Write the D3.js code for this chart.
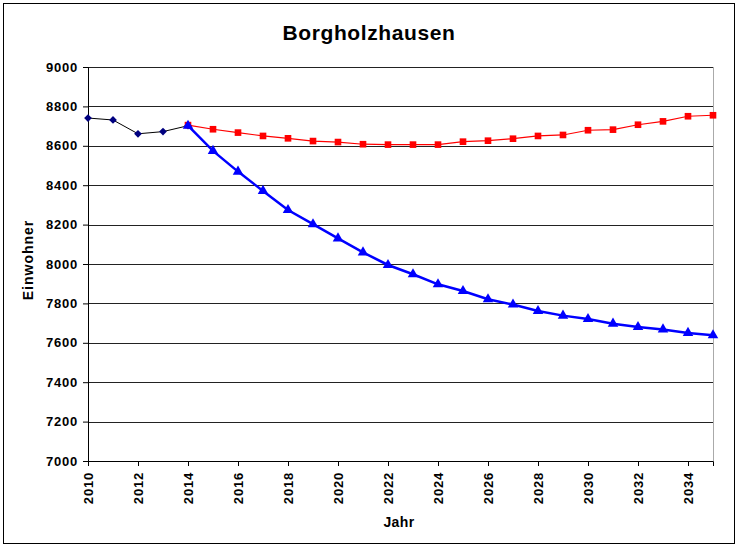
<!DOCTYPE html>
<html>
<head>
<meta charset="utf-8">
<script src="https://cdn.jsdelivr.net/npm/d3@7"></script>
<style>
  body { margin: 0; background: #fff; }
  svg text { font-family: "Liberation Sans", Arial, sans-serif; font-weight: bold; }
</style>
</head>
<body>
<div id="chart"></div>
<script>
// data
const histYears = [2010, 2011, 2012, 2013, 2014];
const histValues = [8741, 8731, 8661, 8672, 8702];

const projYears = [2014, 2015, 2016, 2017, 2018, 2019, 2020, 2021, 2022, 2023, 2024,
  2025, 2026, 2027, 2028, 2029, 2030, 2031, 2032, 2033, 2034, 2035];
const redValues = [8705, 8684, 8667, 8650, 8638, 8624, 8619, 8608, 8606, 8606, 8606,
  8621, 8626, 8636, 8650, 8655, 8679, 8682, 8707, 8724, 8750, 8755];
const blueValues = [8702, 8574, 8469, 8371, 8274, 8202, 8130, 8059, 7995, 7948, 7897,
  7863, 7821, 7794, 7761, 7738, 7721, 7697, 7680, 7668, 7650, 7638];

const yTicks = [7000, 7200, 7400, 7600, 7800, 8000, 8200, 8400, 8600, 8800, 9000];
const xTicks = [2010, 2012, 2014, 2016, 2018, 2020, 2022, 2024, 2026, 2028, 2030, 2032, 2034];

const W = 737, H = 546;
const margin = { top: 67, right: 24, bottom: 85, left: 88 };
const width = W - margin.left - margin.right;
const height = H - margin.top - margin.bottom;

const svg = d3.select('#chart').append('svg')
  .attr('width', W)
  .attr('height', H);

// outer frame
svg.append('rect')
  .attr('x', 3.5).attr('y', 3.5)
  .attr('width', 731).attr('height', 540)
  .attr('fill', 'none').attr('stroke', '#000');

const chart = svg.append('g')
  .attr('transform', `translate(${margin.left}, ${margin.top})`);

const x = d3.scaleLinear().domain([2010, 2035]).range([0, width]);
const y = d3.scaleLinear().domain([7000, 9000]).range([height, 0]);

// plot area right border
chart.append('line')
  .attr('x1', width + 0.5).attr('x2', width + 0.5)
  .attr('y1', 0).attr('y2', height)
  .attr('stroke', '#aaa');

// gridlines
chart.append('g')
  .selectAll('line')
  .data(yTicks.slice(1))
  .join('line')
  .attr('x1', 0).attr('x2', width)
  .attr('y1', d => Math.round(y(d)) + 0.5)
  .attr('y2', d => Math.round(y(d)) + 0.5)
  .attr('stroke', '#222');

// axes
const yAxis = chart.append('g')
  .call(d3.axisLeft(y).tickValues(yTicks).tickSize(5).tickPadding(5).tickFormat(d3.format('d')));
const xAxis = chart.append('g')
  .attr('transform', `translate(0, ${height})`)
  .call(d3.axisBottom(x).tickValues(xTicks).tickSize(5).tickFormat(d3.format('d')));

[yAxis, xAxis].forEach(a => {
  a.select('.domain').attr('stroke', '#000');
  a.selectAll('.tick line').attr('stroke', '#000');
  a.selectAll('text')
    .style('font-size', '13px')
    .style('letter-spacing', '0.8px')
    .attr('fill', '#000');
});
xAxis.selectAll('text')
  .attr('transform', 'rotate(-90)')
  .attr('text-anchor', 'end')
  .attr('x', -11)
  .attr('y', 0)
  .attr('dy', '0.35em');

// lines
const line = d3.line().x(d => x(d[0])).y(d => y(d[1]));
const hist = histYears.map((d, i) => [d, histValues[i]]);
const red = projYears.map((d, i) => [d, redValues[i]]);
const blue = projYears.map((d, i) => [d, blueValues[i]]);

chart.append('path').datum(hist)
  .attr('d', line).attr('fill', 'none').attr('stroke', '#000').attr('stroke-width', 1);
chart.selectAll('.dia').data(hist).join('path')
  .attr('class', 'dia')
  .attr('transform', d => `translate(${x(d[0])}, ${y(d[1])}) rotate(45)`)
  .attr('d', d3.symbol(d3.symbolSquare, 30))
  .attr('fill', '#000080');

chart.append('path').datum(red)
  .attr('d', line).attr('fill', 'none').attr('stroke', '#ff0000').attr('stroke-width', 1.2);
chart.selectAll('.sq').data(red).join('path')
  .attr('class', 'sq')
  .attr('transform', d => `translate(${x(d[0])}, ${y(d[1])})`)
  .attr('d', d3.symbol(d3.symbolSquare, 44))
  .attr('fill', '#ff0000');

chart.append('path').datum(blue)
  .attr('d', line).attr('fill', 'none').attr('stroke', '#0000ff').attr('stroke-width', 2.5);
chart.selectAll('.tri').data(blue).join('path')
  .attr('class', 'tri')
  .attr('transform', d => `translate(${x(d[0])}, ${y(d[1])})`)
  .attr('d', d3.symbol(d3.symbolTriangle, 48))
  .attr('fill', '#0000ff');

// titles
svg.append('text')
  .attr('x', 369).attr('y', 40)
  .attr('text-anchor', 'middle')
  .style('font-size', '21px')
  .style('letter-spacing', '0.6px')
  .text('Borgholzhausen');

svg.append('text')
  .attr('x', 399).attr('y', 527)
  .attr('text-anchor', 'middle')
  .style('font-size', '14px')
  .style('letter-spacing', '0.4px')
  .text('Jahr');

svg.append('text')
  .attr('transform', 'translate(33, 260) rotate(-90)')
  .attr('text-anchor', 'middle')
  .style('font-size', '14px')
  .style('letter-spacing', '1px')
  .text('Einwohner');
</script>
</body>
</html>
